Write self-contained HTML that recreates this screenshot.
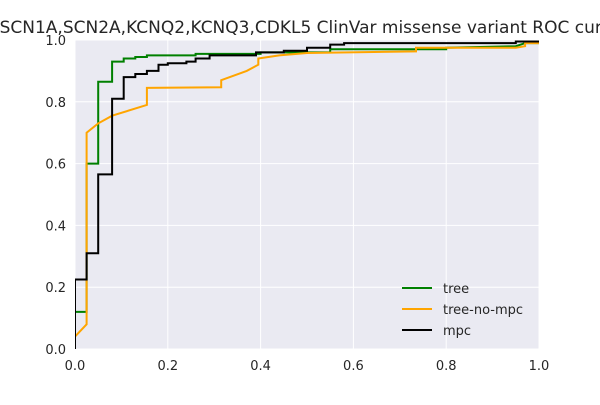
<!DOCTYPE html>
<html><head><meta charset="utf-8"><style>
body{margin:0;background:#fff;width:600px;height:400px;overflow:hidden}
svg{font-family:"DejaVu Sans","Liberation Sans",sans-serif}
</style></head><body>
<svg id="c" width="600" height="400" xmlns="http://www.w3.org/2000/svg"></svg>
<script>
const xTicks=[0,0.2,0.4,0.6,0.8,1.0];
const yTicks=[0,0.2,0.4,0.6,0.8,1.0];
const tickLabels=["0.0","0.2","0.4","0.6","0.8","1.0"];
const seriesNames=["tree","tree-no-mpc","mpc"];
const seriesColors=["#008000","#ffa500","#000000"];
const treeFpr=[0,0,0.025,0.025,0.05,0.05,0.08,0.08,0.105,0.105,0.13,0.13,0.155,0.155,0.26,0.26,0.40,0.40,0.55,0.55,0.80,0.80,0.95,0.97,1];
const treeTpr=[0,0.12,0.12,0.60,0.60,0.865,0.865,0.93,0.93,0.94,0.94,0.945,0.945,0.95,0.95,0.955,0.955,0.96,0.96,0.97,0.97,0.975,0.98,0.99,0.99];
const noMpcFpr=[0,0.025,0.025,0.05,0.08,0.155,0.155,0.315,0.315,0.37,0.395,0.395,0.44,0.5,0.735,0.735,0.95,0.97,0.97,1];
const noMpcTpr=[0.04,0.08,0.70,0.73,0.755,0.79,0.845,0.847,0.87,0.9,0.92,0.94,0.95,0.958,0.963,0.975,0.975,0.98,0.99,0.99];
const mpcFpr=[0,0,0.025,0.025,0.05,0.05,0.08,0.08,0.105,0.105,0.13,0.13,0.155,0.155,0.18,0.18,0.2,0.2,0.24,0.24,0.26,0.26,0.29,0.29,0.39,0.39,0.45,0.45,0.5,0.5,0.55,0.55,0.58,0.58,0.95,0.95,1];
const mpcTpr=[0,0.225,0.225,0.31,0.31,0.565,0.565,0.81,0.81,0.88,0.88,0.89,0.89,0.90,0.90,0.92,0.92,0.925,0.925,0.93,0.93,0.94,0.94,0.95,0.95,0.96,0.96,0.965,0.965,0.975,0.975,0.985,0.985,0.99,0.99,0.995,0.995];
const X0=75,X1=539,Y0=349,Y1=40;
const sx=v=>X0+v*(X1-X0), sy=v=>Y0-v*(Y0-Y1);
const svg=document.getElementById('c');const NS="http://www.w3.org/2000/svg";
function mk(t,a,p){const e=document.createElementNS(NS,t);for(const k in a)e.setAttribute(k,a[k]);(p||svg).appendChild(e);return e;}
const bg=mk('rect',{x:X0,y:Y1,width:X1-X0,height:Y0-Y1,fill:'#eaeaf2'});


xTicks.forEach((t,i)=>{
  const g=mk('line',{x1:sx(t),x2:sx(t),y1:Y1,y2:Y0,stroke:'#fff','stroke-width':1});
  
  
  const l=mk('text',{x:sx(t),y:Y0+21,'text-anchor':'middle','font-size':13,fill:'#262626'});l.textContent=tickLabels[i];
  
  
});
yTicks.forEach((t,i)=>{
  const g=mk('line',{x1:X0,x2:X1,y1:sy(t),y2:sy(t),stroke:'#fff','stroke-width':1});
  
  
  const l=mk('text',{x:X0-9,y:sy(t)+5,'text-anchor':'end','font-size':13,fill:'#262626'});l.textContent=tickLabels[i];
  
  
});
const data=[[treeFpr,treeTpr],[noMpcFpr,noMpcTpr],[mpcFpr,mpcTpr]];
const cp=mk('clipPath',{id:'cp'});mk('rect',{x:X0,y:Y1-2,width:X1-X0+2,height:Y0-Y1+4},cp);
data.forEach((d,i)=>{
  const pts=d[0].map((f,j)=>sx(f).toFixed(1)+','+sy(d[1][j]).toFixed(1)).join(' ');
  const pl=mk('polyline',{points:pts,fill:'none',stroke:seriesColors[i],'stroke-width':2,'clip-path':'url(#cp)'});
  
  
});
seriesNames.forEach((n,i)=>{
  const y=288+i*21;
  const ln=mk('line',{x1:402,x2:432,y1:y,y2:y,stroke:seriesColors[i],'stroke-width':2});
  
  
  const t=mk('text',{x:443,y:y+5,'font-size':13,fill:'#262626'});t.textContent=n;
  
  
});
const title=mk('text',{x:311,y:33,'text-anchor':'middle','font-size':17,fill:'#262626'});
title.textContent="SCN1A,SCN2A,KCNQ2,KCNQ3,CDKL5 ClinVar missense variant ROC curve";


</script>
</body></html>
